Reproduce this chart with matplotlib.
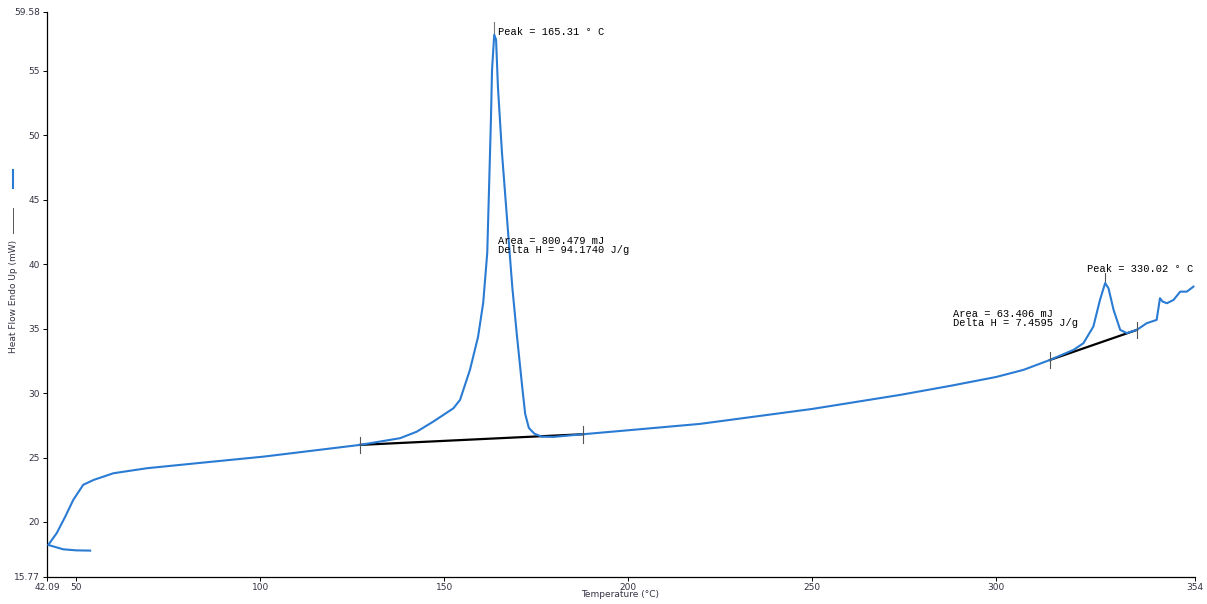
import numpy as np
import matplotlib.pyplot as plt
from matplotlib.lines import Line2D

# DSC trace (temperature in C, heat flow in mW)
temp = [53.8, 50.0, 46.5, 42.4, 44.7, 47.0, 49.2, 51.9, 54.7, 60.1, 69.2, 82.8,
        100.9, 127.1, 138.0, 142.5, 147.1, 150.7, 152.5, 154.3, 157.0, 159.2,
        160.6, 161.7, 162.2, 162.7, 163.0, 163.6, 164.1, 164.6, 165.7, 167.1,
        168.5, 169.8, 171.2, 172.0, 173.0, 174.5, 176.5, 179.7, 183.5, 187.8,
        197.8, 219.5, 250.0, 273.9, 287.5, 300.0, 307.4, 314.6, 321.0, 323.7,
        326.4, 328.2, 329.6, 330.5, 331.9, 333.7, 335.5, 338.2, 340.9, 343.6,
        344.5, 345.2, 346.4, 348.2, 350.0, 351.8, 353.6]
heat_flow = [17.78, 17.80, 17.88, 18.22, 19.13, 20.40, 21.71, 22.88, 23.26, 23.78,
             24.17, 24.56, 25.07, 25.98, 26.50, 27.00, 27.80, 28.48, 28.82, 29.47,
             31.80, 34.36, 37.00, 40.88, 46.00, 51.20, 55.08, 57.80, 57.41, 53.76,
             48.64, 43.44, 38.24, 34.36, 30.48, 28.40, 27.30, 26.85, 26.62, 26.60,
             26.70, 26.81, 27.06, 27.61, 28.77, 29.86, 30.56, 31.25, 31.80, 32.57,
             33.35, 33.87, 35.16, 37.23, 38.53, 38.14, 36.45, 34.90, 34.65, 34.90,
             35.42, 35.68, 37.36, 37.10, 36.97, 37.23, 37.87, 37.87, 38.26]

# integration baselines (start, end temperature)
base1 = [127.1, 187.8]
base2 = [314.6, 338.2]

peak1_text = "Peak = 165.31 \u00b0 C"
area1_text = "Area = 800.479 mJ\nDelta H = 94.1740 J/g"
peak2_text = "Peak = 330.02 \u00b0 C"
area2_text = "Area = 63.406 mJ\nDelta H = 7.4595 J/g"

xticks = [42.09, 50, 100, 150, 200, 250, 300, 354]
yticks = [15.77, 20, 25, 30, 35, 40, 45, 50, 55, 59.58]
xtick_labels = ["42.09", "50", "100", "150", "200", "250", "300", "354"]
ytick_labels = ["15.77", "20", "25", "30", "35", "40", "45", "50", "55", "59.58"]

blue = "#2a7bd3"
mono = "Liberation Mono"

fig = plt.figure(figsize=(12.07, 6.04), dpi=100)
ax = fig.add_axes([0.039, 0.0455, 0.951, 0.935])

t = np.array(temp)
h = np.array(heat_flow)
ax.plot(t, h, color=blue, lw=1.5, zorder=3)

for b in (base1, base2):
    y = np.interp(b, t[3:], h[3:])
    ax.plot(b, y, color="black", lw=1.6, zorder=2)
    for xb, yb in zip(b, y):
        ax.plot([xb, xb], [yb - 0.65, yb + 0.65], color="#555555", lw=0.8, zorder=4)

# peak markers
i1 = int(np.argmax(h[:40]))
i2 = 40 + int(np.argmax(h[40:60]))
ax.plot([t[i1], t[i1]], [h[i1], h[i1] + 1.0], color="#777777", lw=0.8)
ax.plot([t[i2], t[i2]], [h[i2], h[i2] + 0.8], color="#555555", lw=0.8)

ax.text(t[i1] + 1.0, h[i1] + 0.2, peak1_text, family=mono, fontsize=7.5, va="center")
ax.text(t[i1] + 1.0, 41.45, area1_text, family=mono, fontsize=7.5, va="center",
        linespacing=0.95)
ax.text(324.7, 39.64, peak2_text, family=mono, fontsize=7.5, va="center")
ax.text(288.3, 35.8, area2_text, family=mono, fontsize=7.5, va="center",
        linespacing=0.95)

ax.set_xlim(42.09, 354)
ax.set_ylim(15.77, 59.58)
ax.set_xticks(xticks)
ax.set_xticklabels(xtick_labels)
ax.set_yticks(yticks)
ax.set_yticklabels(ytick_labels)
ax.tick_params(labelsize=6.5, labelcolor="#333344", length=3, width=0.7, pad=2)
ax.spines["top"].set_visible(False)
ax.spines["right"].set_visible(False)
ax.spines["left"].set_linewidth(0.9)
ax.spines["bottom"].set_linewidth(0.9)

fig.text(0.514, 0.008, "Temperature (\u00b0C)", fontsize=6.5, color="#333344",
         ha="center", va="bottom")
fig.text(0.0115, 0.51, "Heat Flow Endo Up (mW)", fontsize=6.5, color="#333344",
         rotation=90, ha="center", va="center")
fig.add_artist(Line2D([0.0105, 0.0105], [0.688, 0.718], color=blue, lw=1.5))
fig.add_artist(Line2D([0.0105, 0.0105], [0.615, 0.655], color="#555555", lw=0.7))

fig.savefig("out.png", dpi=100)
